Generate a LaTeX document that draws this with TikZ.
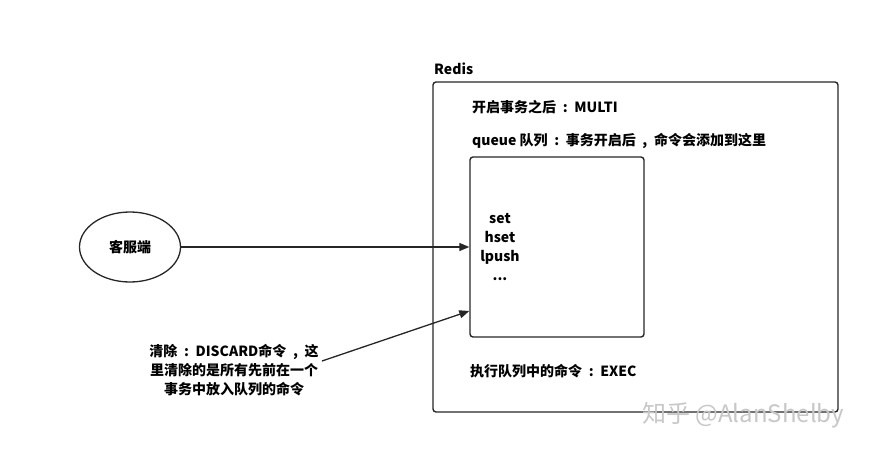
\documentclass[tikz,border=0pt]{standalone}
\usepackage{fontspec}
\setmainfont{Noto Sans CJK SC}
\usepackage{tikz}
\usetikzlibrary{arrows.meta,shapes,calc}
\newcommand{\fcolon}{\makebox[1.3em]{:}}
\newcommand{\fcomma}{\makebox[1.3em]{,}}

\begin{document}
\begin{tikzpicture}[x=1pt,y=-1pt,
	box/.style={draw=black!85, line width=1.4pt, rounded corners=3pt},
	lbl/.style={anchor=west, inner sep=0pt, font=\fontsize{14}{19}\selectfont\bfseries},
	arr/.style={draw=black!85, line width=1.3pt, -{Triangle[length=10pt,width=8pt]}}]
	\useasboundingbox (0,0) rectangle (871,455);

	\node [box, minimum width=405pt, minimum height=330pt] (redis) at (635.5, 247) {};
	\node [lbl] (redistitle) at (434, 69) {Redis};
	\node [lbl] (multi) at (472, 107) {开启事务之后\fcolon MULTI};
	\node [lbl] (queuetitle) at (472, 141) {queue 队列\fcolon 事务开启后\fcomma 命令会添加到这里};
	\node [box, minimum width=174pt, minimum height=180pt] (queue) at (557, 247) {};
	\node [lbl, anchor=center, align=center] (cmds) at (500, 247) {set\\hset\\lpush\\...};
	\node [lbl] (exec) at (470, 371) {执行队列中的命令\fcolon EXEC};

	\node [draw=black!85, line width=1.3pt, shape=ellipse, minimum width=101pt, minimum height=70pt, font=\fontsize{14}{19}\selectfont\bfseries] (client) at (130, 247) {客服端};
	\node [lbl, anchor=center, align=center] (discard) at (234, 370) {清除\fcolon DISCARD命令\fcomma 这\\里清除的是所有先前在一个\\事务中放入队列的命令};

	\node [anchor=west, inner sep=0pt, text=black!22, font=\fontsize{24}{28}\selectfont] (watermark) at (642, 415) {知乎 @AlanShelby};

	\coordinate (dstart) at (322, 361);
	\draw [arr] (client) to (queue.west);
	\draw [arr] (dstart) to ($(queue.west)+(0,64)$);
\end{tikzpicture}
\end{document}
